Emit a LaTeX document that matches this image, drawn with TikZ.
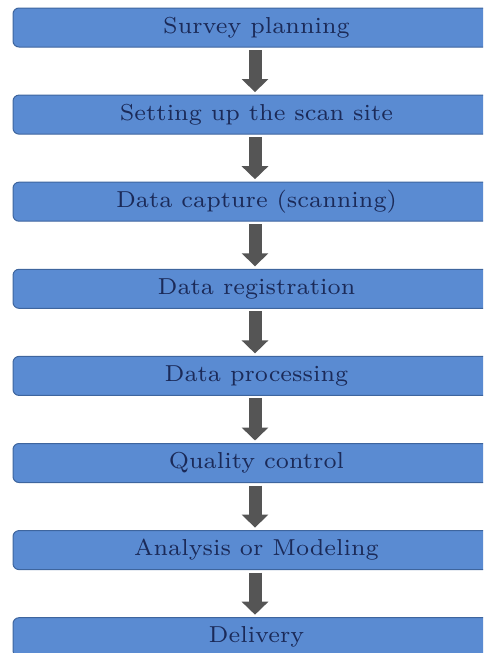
\documentclass[tikz,border=0pt]{standalone}
\usepackage{graphicx}
\usetikzlibrary{arrows.meta}
\definecolor{boxblue}{HTML}{5A8BD2}
\definecolor{boxedge}{HTML}{3E659E}
\definecolor{txtnavy}{HTML}{1B2A58}
\definecolor{arrgray}{HTML}{555555}
\newcommand{\stagetext}[1]{\scalebox{3.3}{\fontsize{7}{8}\selectfont #1}}
\begin{document}
\begin{tikzpicture}[x=1pt,y=-1pt,
  stage/.style={draw=boxedge, fill=boxblue, line width=1pt, rounded corners=6pt,
    minimum width=487pt, minimum height=39pt, inner sep=0pt, text=txtnavy},
  flow/.style={draw=arrgray, line width=13pt, -{Triangle[width=26pt,length=13pt]},
    shorten <=2.5pt, shorten >=2.5pt}]
\useasboundingbox (0,0) rectangle (483,653);
\clip (0,0) rectangle (483,653);
\node[stage] (s1) at (256.5,27.5)  {\stagetext{Survey planning}};
\node[stage] (s2) at (256.5,114.6) {\stagetext{Setting up the scan site}};
\node[stage] (s3) at (256.5,201.7) {\stagetext{Data capture (scanning)}};
\node[stage] (s4) at (256.5,288.8) {\stagetext{Data registration}};
\node[stage] (s5) at (256.5,375.9) {\stagetext{Data processing}};
\node[stage] (s6) at (256.5,463.0) {\stagetext{Quality control}};
\node[stage] (s7) at (256.5,550.1) {\stagetext{Analysis or Modeling}};
\node[stage] (s8) at (256.5,637.2) {\stagetext{Delivery}};
\foreach \a/\b in {s1/s2,s2/s3,s3/s4,s4/s5,s5/s6,s6/s7,s7/s8}
  \draw[flow] ([xshift=-1.5pt]\a.south) -- ([xshift=-1.5pt]\b.north);
\end{tikzpicture}
\end{document}
